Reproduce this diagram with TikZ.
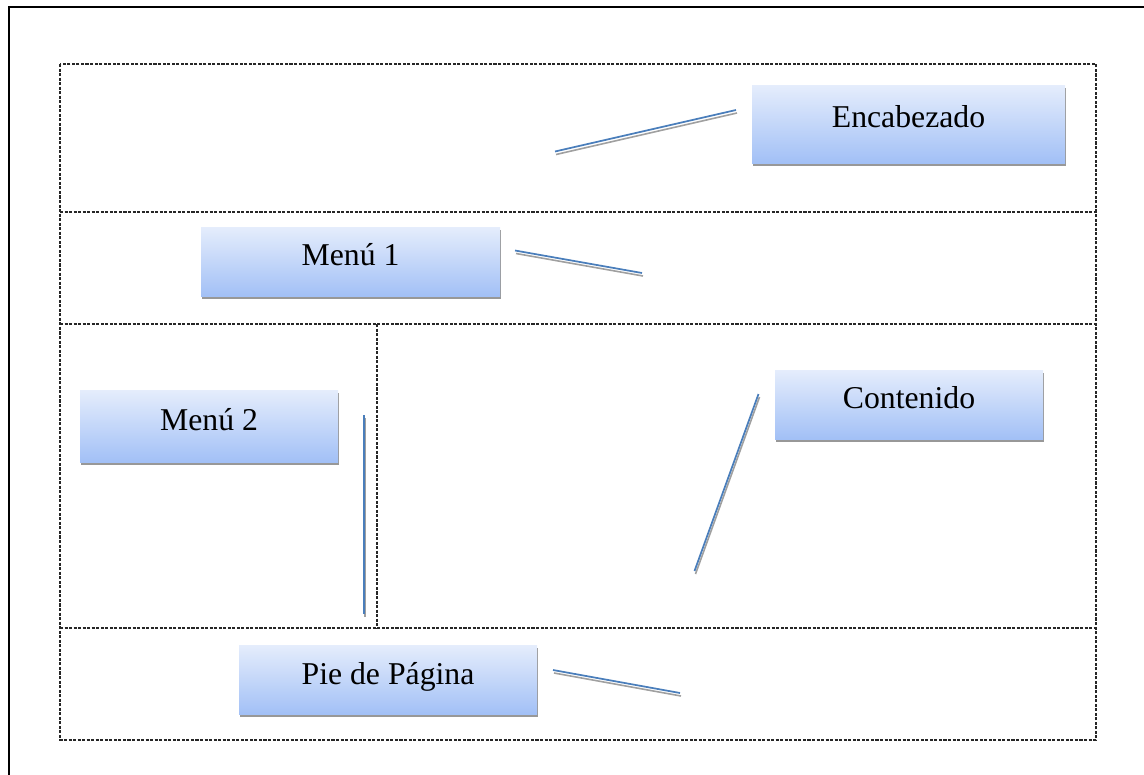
\documentclass[tikz,border=0pt]{standalone}
\usepackage{fontspec}
\setmainfont{Liberation Serif}
\usetikzlibrary{calc,shadows}

\definecolor{boxtop}{HTML}{E5EDFC}
\definecolor{boxbot}{HTML}{A2C0F6}
\definecolor{linkblue}{HTML}{4A7EBB}
\definecolor{linkshade}{HTML}{A0A0A0}
\definecolor{shadowgray}{HTML}{989898}
\definecolor{zoneline}{HTML}{262626}

\tikzset{
  frame/.style={line width=1.5pt, black},
  zone/.style={draw=zoneline, line width=0.85pt, dash pattern=on 2.3pt off 1.1pt},
  block/.style={rectangle, inner sep=0pt, top color=boxtop, bottom color=boxbot,
    drop shadow={shadow xshift=1.1pt, shadow yshift=-2.6pt, opacity=1, fill=shadowgray}},
  caption/.style={anchor=base, inner sep=0pt, font=\fontsize{23.8}{28}\selectfont},
  linkshadow/.style={draw=linkshade, line width=1.2pt},
  linkline/.style={draw=linkblue, line width=1.3pt},
}

\begin{document}
\begin{tikzpicture}[x=0.75pt, y=-0.75pt]
  \useasboundingbox (0,0) rectangle (1144,774);

  % page frame (continues past the right and bottom edges)
  \draw[frame] (8.5,780) -- (8.5,7.5) -- (1150,7.5);

  % layout zones
  \draw[zone] (60,64) rectangle (1096,740);
  \draw[zone] (60,212) -- (1096,212);
  \draw[zone] (60,324) -- (1096,324);
  \draw[zone] (60,628) -- (1096,628);
  \draw[zone] (377,324) -- (377,628);

  % labelled blocks
  \node[block, minimum width=313*0.75pt, minimum height=78*0.75pt] (enc) at (908.5,124) {};
  \node[block, minimum width=299*0.75pt, minimum height=69*0.75pt] (m1) at (350.5,261.5) {};
  \node[block, minimum width=258*0.75pt, minimum height=72*0.75pt] (m2) at (209,426) {};
  \node[block, minimum width=268*0.75pt, minimum height=69*0.75pt] (cont) at (909,404.5) {};
  \node[block, minimum width=298*0.75pt, minimum height=69*0.75pt] (pie) at (388,679.5) {};

  \node[caption] (encT) at ($(enc.center)+(0,3.5)$) {Encabezado};
  \node[caption] (m1T) at ($(m1.center)+(0,4)$) {Menú 1};
  \node[caption] (m2T) at ($(m2.center)+(0,4)$) {Menú 2};
  \node[caption] (contT) at ($(cont.center)+(0,4)$) {Contenido};
  \node[caption] (pieT) at ($(pie.center)+(0,5)$) {Pie de Página};

  % pointer lines
  \coordinate (encA) at (555,151.5);   \coordinate (encB) at (736,110);
  \coordinate (m1A) at (515,250.5);    \coordinate (m1B) at (642,273);
  \coordinate (m2A) at (364,415);      \coordinate (m2B) at (364,614);
  \coordinate (contA) at (758.5,394);  \coordinate (contB) at (694.5,571);
  \coordinate (pieA) at (553,670);     \coordinate (pieB) at (680,693);

  \foreach \a/\b in {encA/encB, m1A/m1B, m2A/m2B, contA/contB, pieA/pieB} {
    \draw[linkshadow] ($(\a)+(1,3)$) -- ($(\b)+(1,3)$);
    \draw[linkline] (\a) -- (\b);
  }
\end{tikzpicture}
\end{document}
